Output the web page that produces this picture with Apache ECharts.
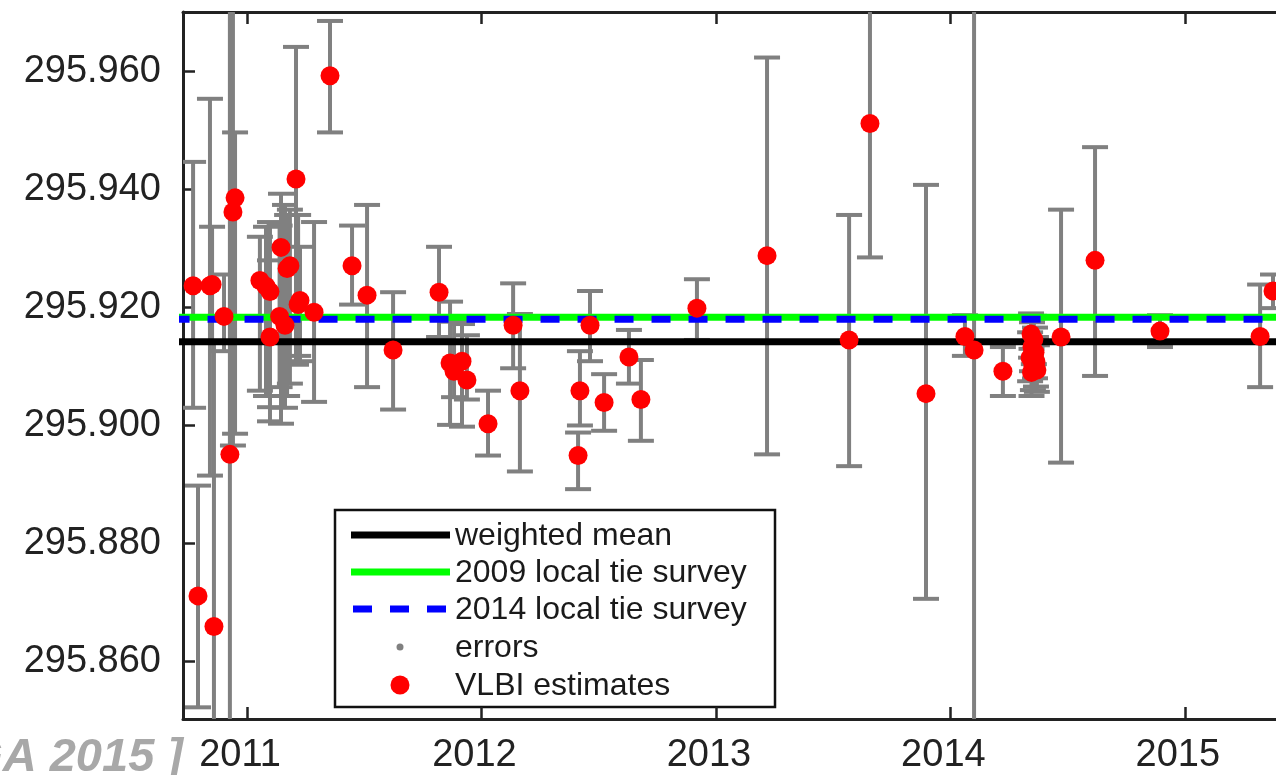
<!DOCTYPE html>
<html>
<head>
<meta charset="utf-8">
<script src="https://cdn.jsdelivr.net/npm/echarts@6/dist/echarts.min.js"></script>
<style>
html,body{margin:0;padding:0;background:#fff;}
#chart{width:1276px;height:775px;}
</style>
</head>
<body>
<div id="chart"></div>
<script>
// ---- data (decimal year, VLBI estimate, lower error end, upper error end) ----
const years = [
  2010.770, 2010.791, 2010.842, 2010.851, 2010.859, 2010.902, 2010.927, 2010.949, 2010.940,
  2011.055, 2011.081, 2011.098, 2011.145, 2011.171, 2011.183, 2011.209, 2011.218, 2011.226,
  2011.139, 2011.162, 2011.098, 2011.286, 2011.354, 2011.448, 2011.512, 2011.623,
  2011.819, 2011.866, 2011.883, 2011.917, 2011.938, 2012.028, 2012.135, 2012.164,
  2012.412, 2012.420, 2012.463, 2012.523, 2012.629, 2012.680, 2012.919,
  2013.218, 2013.568, 2013.657, 2013.896, 2014.062, 2014.101, 2014.224,
  2014.344, 2014.356, 2014.348, 2014.361, 2014.340, 2014.365, 2014.352, 2014.369, 2014.346,
  2014.472, 2014.617, 2014.894, 2015.321, 2015.376
];
const estimates = [
  295.9237, 295.8711, 295.9237, 295.9239, 295.8659, 295.9185, 295.8951, 295.9386, 295.9362,
  295.9246, 295.9236, 295.9227, 295.9302, 295.9266, 295.9271, 295.9418, 295.9205, 295.9212,
  295.9185, 295.9170, 295.9150, 295.9192, 295.9593, 295.9271, 295.9221, 295.9128,
  295.9226, 295.9106, 295.9092, 295.9109, 295.9077, 295.9003, 295.9170, 295.9059,
  295.8949, 295.9059, 295.9170, 295.9039, 295.9116, 295.9044, 295.9199,
  295.9288, 295.9145, 295.9512, 295.9054, 295.9151, 295.9128, 295.9092,
  295.9155, 295.9146, 295.9133, 295.9124, 295.9115, 295.9108, 295.9100, 295.9094, 295.9090,
  295.9150, 295.9280, 295.9160, 295.9151, 295.9228
];
const errLow = [
  295.9030, 295.8522, 295.8915, 295.9140, 295.8300, 295.9126, 295.8300, 295.8986, 295.8966,
  295.9059, 295.9050, 295.9031, 295.9003, 295.9050, 295.9071, 295.9103, 295.9118, 295.9109,
  295.9065, 295.9030, 295.9007, 295.9040, 295.9497, 295.9205, 295.9065, 295.9027,
  295.9150, 295.9001, 295.9048, 295.8998, 295.9044, 295.8949, 295.9097, 295.8922,
  295.8892, 295.9000, 295.9109, 295.8991, 295.9071, 295.8974, 295.9145,
  295.8951, 295.8931, 295.9285, 295.8706, 295.9118, 295.8300, 295.9050,
  295.9115, 295.9104, 295.9092, 295.9080, 295.9075, 295.9066, 295.9060, 295.9057, 295.9050,
  295.8937, 295.9084, 295.9133, 295.9065, 295.9199
];
const errHigh = [
  295.9447, 295.8898, 295.9554, 295.9337, 295.9140, 295.9256, 295.9900, 295.9497, 295.9900,
  295.9320, 295.9337, 295.9345, 295.9393, 295.9357, 295.9366, 295.9642, 295.9357, 295.9303,
  295.9339, 295.9374, 295.9280, 295.9345, 295.9686, 295.9339, 295.9374, 295.9226,
  295.9303, 295.9210, 295.9176, 295.9172, 295.9153, 295.9059, 295.9241, 295.9189,
  295.8988, 295.9126, 295.9228, 295.9087, 295.9162, 295.9111, 295.9248,
  295.9624, 295.9357, 295.9900, 295.9408, 295.9187, 295.9900, 295.9133,
  295.9190, 295.9186, 295.9175, 295.9166, 295.9158, 295.9150, 295.9142, 295.9136, 295.9130,
  295.9366, 295.9472, 295.9187, 295.9239, 295.9256
];
const weightedMean = 295.9142;
const survey2009 = 295.91835;
const survey2014 = 295.9180;
const xTicks = [2011, 2012, 2013, 2014, 2015];
const yTicks = [295.86, 295.88, 295.90, 295.92, 295.94, 295.96];
const legendNames = ['weighted mean', '2009 local tie survey', '2014 local tie survey', 'errors', 'VLBI estimates'];
const watermark = '[ EGU GA 2015 ]';

// ---- build ----
const xMin = 2010.727, xMax = 2015.3888;
const yMin = 295.85022, yMax = 295.97012;
const pts = years.map((y, i) => [y, estimates[i]]);
const errs = years.map((y, i) => [y, errLow[i], errHigh[i]]);
const FONT = '"Liberation Sans", Arial, sans-serif';
const GREY = '#808080';

const chart = echarts.init(document.getElementById('chart'), null, {renderer: 'canvas'});

const tickStyle = {color: '#222', width: 2.5};
const option = {
  animation: false,
  backgroundColor: '#fff',
  grid: {left: 183, right: 0, top: 12, bottom: 52, containLabel: false},
  xAxis: [{
    type: 'value', min: xMin, max: xMax, position: 'bottom',
    axisLine: {show: true, lineStyle: {color: '#222', width: 3}},
    axisTick: {show: true, inside: true, length: 12, customValues: xTicks, lineStyle: tickStyle},
    axisLabel: {show: true, customValues: xTicks, margin: 18, color: '#222', fontSize: 38, fontFamily: FONT,
      padding: [0, 14, 0, 0], formatter: v => String(Math.round(v))},
    splitLine: {show: false}
  }, {
    type: 'value', min: xMin, max: xMax, position: 'top',
    axisLine: {show: true, lineStyle: {color: '#222', width: 3}},
    axisTick: {show: true, inside: true, length: 12, customValues: xTicks, lineStyle: tickStyle},
    axisLabel: {show: false},
    splitLine: {show: false}
  }],
  yAxis: [{
    type: 'value', min: yMin, max: yMax,
    axisLine: {show: true, lineStyle: {color: '#222', width: 3}},
    axisTick: {show: true, inside: true, length: 12, customValues: yTicks, lineStyle: tickStyle},
    axisLabel: {show: true, customValues: yTicks, margin: 22, color: '#222', fontSize: 38, fontFamily: FONT,
      formatter: v => v.toFixed(3)},
    splitLine: {show: false}
  }],
  series: [{
    name: 'errors', type: 'custom', clip: true, z: 2,
    data: errs,
    renderItem: function (params, api) {
      const x = api.value(0);
      const lo = api.coord([x, api.value(1)]);
      const hi = api.coord([x, api.value(2)]);
      const hw = 13;
      const st = {stroke: GREY, lineWidth: 4};
      return {type: 'group', children: [
        {type: 'line', shape: {x1: lo[0], y1: lo[1], x2: hi[0], y2: hi[1]}, style: st},
        {type: 'line', shape: {x1: lo[0] - hw, y1: lo[1], x2: lo[0] + hw, y2: lo[1]}, style: st},
        {type: 'line', shape: {x1: hi[0] - hw, y1: hi[1], x2: hi[0] + hw, y2: hi[1]}, style: st}
      ]};
    }
  }, {
    name: 'weighted mean', type: 'line', z: 3, symbol: 'none',
    data: [[xMin - 1, weightedMean], [xMax + 1, weightedMean]],
    lineStyle: {color: '#000', width: 7}
  }, {
    name: '2009 local tie survey', type: 'line', z: 3, symbol: 'none',
    data: [[xMin - 1, survey2009], [xMax + 1, survey2009]],
    lineStyle: {color: '#00ff00', width: 7}
  }, {
    name: '2014 local tie survey', type: 'line', z: 4, symbol: 'none',
    data: [[xMin - 1, survey2014], [xMax + 1, survey2014]],
    lineStyle: {color: '#0000ff', width: 7, type: [19, 18], dashOffset: 0}
  }, {
    name: 'VLBI estimates', type: 'scatter', z: 5,
    data: pts, symbol: 'circle', symbolSize: 19,
    itemStyle: {color: '#ff0000', opacity: 1}
  }],
  graphic: [
    {type: 'text', x: 183, y: 782, z: 100,
      style: {text: watermark, fill: '#a8a8a8', font: 'italic bold 47px ' + FONT, align: 'right', verticalAlign: 'bottom'}},
    {type: 'group', z: 100, children: [
      {type: 'rect', shape: {x: 335, y: 510, width: 440, height: 197}, style: {fill: '#fff', stroke: '#111', lineWidth: 2.5}},
      {type: 'line', shape: {x1: 351, y1: 535, x2: 450, y2: 535}, style: {stroke: '#000', lineWidth: 7}},
      {type: 'line', shape: {x1: 351, y1: 572, x2: 450, y2: 572}, style: {stroke: '#00ff00', lineWidth: 7}},
      {type: 'line', shape: {x1: 353, y1: 609, x2: 449, y2: 609}, style: {stroke: '#0000ff', lineWidth: 7, lineDash: [19, 18]}},
      {type: 'circle', shape: {cx: 400, cy: 647, r: 3.5}, style: {fill: GREY}},
      {type: 'circle', shape: {cx: 400, cy: 685, r: 9.5}, style: {fill: '#ff0000'}},
      {type: 'text', x: 455, y: 536, style: {text: legendNames[0], fill: '#1a1a1a', font: '32px ' + FONT, verticalAlign: 'middle'}},
      {type: 'text', x: 455, y: 573, style: {text: legendNames[1], fill: '#1a1a1a', font: '32px ' + FONT, verticalAlign: 'middle'}},
      {type: 'text', x: 455, y: 610, style: {text: legendNames[2], fill: '#1a1a1a', font: '32px ' + FONT, verticalAlign: 'middle'}},
      {type: 'text', x: 455, y: 648, style: {text: legendNames[3], fill: '#1a1a1a', font: '32px ' + FONT, verticalAlign: 'middle'}},
      {type: 'text', x: 455, y: 686, style: {text: legendNames[4], fill: '#1a1a1a', font: '32px ' + FONT, verticalAlign: 'middle'}}
    ]}
  ]
};
chart.setOption(option);
</script>
</body>
</html>
